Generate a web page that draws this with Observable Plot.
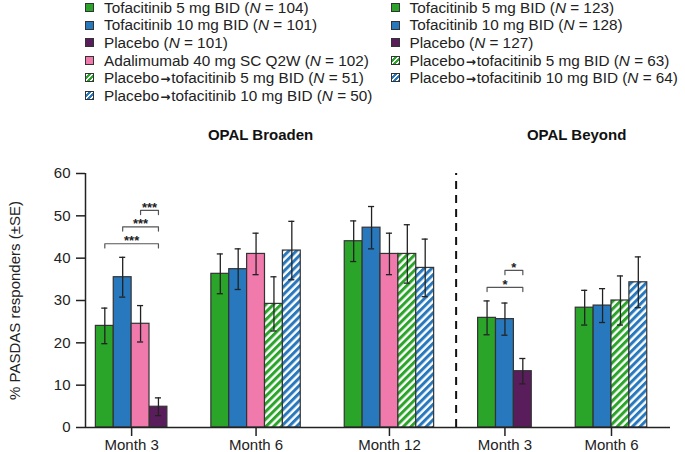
<!DOCTYPE html>
<html>
<head>
<meta charset="utf-8">
<script src="https://cdn.jsdelivr.net/npm/d3@7"></script>
<script src="https://cdn.jsdelivr.net/npm/@observablehq/plot@0.6"></script>
<style>
  html, body { margin: 0; padding: 0; background: #fff; }
  body { width: 685px; height: 452px; overflow: hidden; font-family: "Liberation Sans", Arial, Helvetica, sans-serif; color: #222; }
  #legend { position: relative; height: 110px; font-size: 15.3px; }
  .col { position: absolute; top: -1.3px; }
  .row { height: 17.6px; display: flex; align-items: center; white-space: nowrap; }
  .row > .t { line-height: 1; }
  .sw { width: 9px; height: 9px; box-sizing: border-box; border: 1px solid #333; margin-right: 10px; flex: none; }
  .arr { font-family: "DejaVu Sans", sans-serif; font-weight: bold; font-size: 12px; margin: 0 1px; }
  #defs { position: absolute; width: 0; height: 0; }
</style>
</head>
<body>
<svg id="defs" width="0" height="0">
  <defs>
    <pattern id="hatch-green" patternUnits="userSpaceOnUse" width="5.4" height="5.4" patternTransform="rotate(45)">
      <rect width="5.4" height="5.4" fill="#ffffff"></rect>
      <rect width="3" height="5.4" fill="#2aa52a"></rect>
    </pattern>
    <pattern id="hatch-blue" patternUnits="userSpaceOnUse" width="5.4" height="5.4" patternTransform="rotate(45)">
      <rect width="5.4" height="5.4" fill="#ffffff"></rect>
      <rect width="3" height="5.4" fill="#2878bd"></rect>
    </pattern>
  </defs>
</svg>
<div id="legend"></div>
<div id="chart"></div>
<script>
// ---------------- data ----------------
const timepoints = ["Month 3", "Month 6", "Month 12", "Month 3", "Month 6"];
const studies = ["OPAL Broaden", "OPAL Beyond"];
const groupStudy = [0, 0, 0, 1, 1];

const barSeries = [
  ["t5", "t10", "ada", "pbo"],
  ["t5", "t10", "ada", "p5", "p10"],
  ["t5", "t10", "ada", "p5", "p10"],
  ["t5", "t10", "pbo"],
  ["t5", "t10", "p5", "p10"]
];
const barValues = [
  [24.0, 35.5, 24.5, 4.9],
  [36.3, 37.4, 41.0, 29.2, 41.8],
  [44.0, 47.2, 41.0, 41.0, 37.7],
  [25.9, 25.6, 13.3],
  [28.3, 28.8, 30.0, 34.3]
];
const barSE = [
  [4.2, 4.7, 4.3, 2.1],
  [4.7, 4.8, 4.9, 6.4, 6.9],
  [4.8, 5.0, 4.9, 6.9, 6.8],
  [4.0, 3.8, 3.0],
  [4.1, 4.0, 5.8, 6.0]
];

// significance brackets
const sigGroup = [0, 0, 0, 3, 3];
const sigFrom = ["t5", "t10", "ada", "t5", "t10"];
const sigTo = ["pbo", "pbo", "pbo", "pbo", "pbo"];
const sigLevel = [43.4, 47.4, 51.3, 33.1, 37.1];
const sigLabel = ["***", "***", "***", "*", "*"];

// legends
const legendBroadenKeys = ["t5", "t10", "pbo", "ada", "p5", "p10"];
const legendBroadenNames = ["Tofacitinib 5 mg BID", "Tofacitinib 10 mg BID", "Placebo", "Adalimumab 40 mg SC Q2W", "Placebo→tofacitinib 5 mg BID", "Placebo→tofacitinib 10 mg BID"];
const legendBroadenN = [104, 101, 101, 102, 51, 50];
const legendBeyondKeys = ["t5", "t10", "pbo", "p5", "p10"];
const legendBeyondNames = ["Tofacitinib 5 mg BID", "Tofacitinib 10 mg BID", "Placebo", "Placebo→tofacitinib 5 mg BID", "Placebo→tofacitinib 10 mg BID"];
const legendBeyondN = [123, 128, 127, 63, 64];

const yTicks = [0, 10, 20, 30, 40, 50, 60];
const yLabel = "% PASDAS responders (±SE)";

// ---------------- styles ----------------
const FILL = {
  t5: "#2aa52a", t10: "#2878bd", pbo: "#5a1d5b", ada: "#f07aac",
  p5: "url(#hatch-green)", p10: "url(#hatch-blue)"
};
const CSSFILL = {
  t5: "#2aa52a", t10: "#2878bd", pbo: "#5a1d5b", ada: "#f07aac",
  p5: "repeating-linear-gradient(135deg, #fff 0 1.6px, #2aa52a 1.6px 3.6px)",
  p10: "repeating-linear-gradient(135deg, #fff 0 1.6px, #2878bd 1.6px 3.6px)"
};

// ---------------- legend ----------------
function legendCol(keys, names, ns, left) {
  const col = document.createElement("div");
  col.className = "col";
  col.style.left = left + "px";
  keys.forEach((k, i) => {
    const row = document.createElement("div");
    row.className = "row";
    const sw = document.createElement("span");
    sw.className = "sw";
    sw.style.background = CSSFILL[k];
    row.appendChild(sw);
    const t = document.createElement("span");
    t.className = "t";
    t.innerHTML = names[i].replace("→", '<span class="arr">→</span>') + " (<i>N</i> = " + ns[i] + ")";
    row.appendChild(t);
    col.appendChild(row);
  });
  return col;
}
const legend = document.getElementById("legend");
legend.appendChild(legendCol(legendBroadenKeys, legendBroadenNames, legendBroadenN, 85));
legend.appendChild(legendCol(legendBeyondKeys, legendBeyondNames, legendBeyondN, 390.5));

// ---------------- layout (bar slots) ----------------
const PAD_L = 0.58, GAP = 2.46, PAD_R = 1.3;
const rows = [];
const centers = [], gStart = [], gEnd = [];
let s = PAD_L;
barSeries.forEach((keys, g) => {
  gStart.push(s);
  keys.forEach((k, i) => rows.push({ g, key: k, x1: s + i, x2: s + i + 1, xc: s + i + 0.5, v: barValues[g][i], se: barSE[g][i] }));
  centers.push(s + keys.length / 2);
  gEnd.push(s + keys.length);
  s += keys.length + GAP;
});
const xMax = s - GAP + PAD_R;
const tickLabel = new Map(centers.map((c, i) => [c, timepoints[i]]));

const findBar = (g, k) => rows.find(r => r.g === g && r.key === k);
const bracketPts = [];
const starRows = [];
sigGroup.forEach((g, i) => {
  const a = findBar(g, sigFrom[i]).xc, b = findBar(g, sigTo[i]).xc, y = sigLevel[i];
  bracketPts.push({ id: i, x: a, y: y - 1 }, { id: i, x: a, y }, { id: i, x: b, y }, { id: i, x: b, y: y - 1 });
  starRows.push({ x: (a + b) / 2, y, label: sigLabel[i] });
});

const titleRows = [
  { x: (centers[0] + centers[2]) / 2, label: studies[0] },
  { x: (gStart[3] + gEnd[4]) / 2 + 0.78, label: studies[1] }
];
const divider = gStart[3] - GAP / 2;

const barMarks = Object.keys(FILL).map(k =>
  Plot.rectY(rows.filter(r => r.key === k), { x1: "x1", x2: "x2", y: "v", fill: FILL[k], stroke: "#333", strokeWidth: 1.2 })
);

const chart = Plot.plot({
  width: 685, height: 342,
  marginLeft: 85, marginRight: 15, marginTop: 63, marginBottom: 25,
  style: { fontFamily: "'Liberation Sans', Arial, Helvetica, sans-serif", fontSize: "15px", color: "#222", background: "#fff" },
  x: { domain: [0, xMax], axis: null },
  y: { domain: [0, 60], axis: null },
  marks: [
    ...barMarks,
    Plot.ruleX(rows, { x: "xc", y1: r => r.v - r.se, y2: r => r.v + r.se, stroke: "#222", strokeWidth: 1.3 }),
    Plot.ruleY(rows, { y: r => r.v + r.se, x1: r => r.xc - 0.17, x2: r => r.xc + 0.17, stroke: "#222", strokeWidth: 1.3 }),
    Plot.ruleY(rows, { y: r => r.v - r.se, x1: r => r.xc - 0.17, x2: r => r.xc + 0.17, stroke: "#222", strokeWidth: 1.3 }),
    Plot.line(bracketPts, { x: "x", y: "y", z: "id", stroke: "#555", strokeWidth: 1.2 }),
    Plot.text(starRows, { x: "x", y: "y", text: "label", fontSize: 13, fontWeight: "bold", dy: -3, fill: "#222" }),
    Plot.ruleX([divider], { y1: 0, y2: 60, stroke: "#111", strokeWidth: 2, strokeDasharray: "8,6" }),
    Plot.ruleY([0], { stroke: "#222", strokeWidth: 1.5 }),
    Plot.ruleX([0], { y1: 0, y2: 60, stroke: "#222", strokeWidth: 1.5 }),
    Plot.axisY({ ticks: yTicks, tickSize: 9, tickPadding: 6, label: null, strokeWidth: 1.5, fontSize: 15 }),
    Plot.axisX({ ticks: centers, tickFormat: d => tickLabel.get(d), tickSize: 9, tickPadding: 3, label: null, strokeWidth: 1.5, fontSize: 15 }),
    Plot.text(titleRows, { x: "x", y: () => 60, text: "label", dy: -38, fontWeight: "bold", fontSize: 15, fill: "#111" }),
    Plot.text([yLabel], { frameAnchor: "left", textAnchor: "middle", rotate: -90, dx: -70, fontSize: 15, fill: "#222" })
  ]
});
document.getElementById("chart").appendChild(chart);
</script>
</body>
</html>
